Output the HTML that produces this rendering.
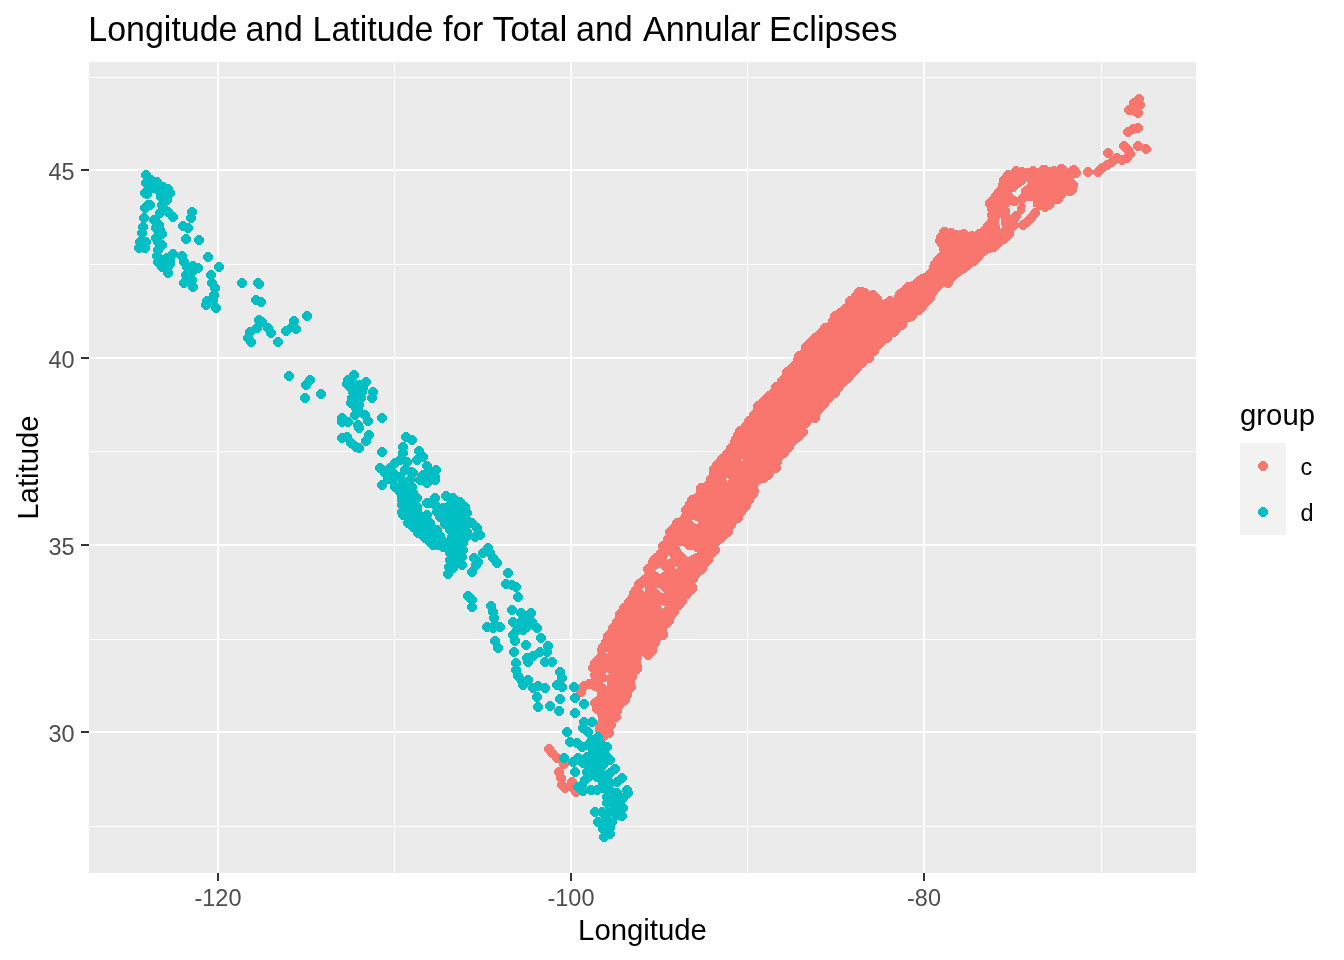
<!DOCTYPE html>
<html><head><meta charset="utf-8"><title>Longitude and Latitude for Total and Annular Eclipses</title>
<style>
html,body{margin:0;padding:0;background:#fff;}
svg{display:block;}
text{font-family:"Liberation Sans",Arial,sans-serif;}
.tk{font-size:23.47px;fill:#4D4D4D;}
.ax{font-size:29.33px;fill:#000;}
.ti{font-size:35.2px;fill:#000;}
.lg{font-size:23.47px;fill:#000;}
</style></head><body>
<svg width="1344" height="960" viewBox="0 0 1344 960">
<rect width="1344" height="960" fill="#fff"/>
<rect x="89" y="62" width="1107" height="811" fill="#EBEBEB"/>
<g fill="#fff" shape-rendering="crispEdges">
<rect x="89" y="77" width="1107" height="1"/>
<rect x="89" y="264" width="1107" height="1"/>
<rect x="89" y="451" width="1107" height="1"/>
<rect x="89" y="639" width="1107" height="1"/>
<rect x="89" y="826" width="1107" height="1"/>
<rect x="394" y="62" width="1" height="811"/>
<rect x="747" y="62" width="1" height="811"/>
<rect x="1101" y="62" width="1" height="811"/>
<rect x="89" y="169" width="1107" height="2"/>
<rect x="89" y="357" width="1107" height="2"/>
<rect x="89" y="544" width="1107" height="2"/>
<rect x="89" y="731" width="1107" height="2"/>
<rect x="217" y="62" width="2" height="811"/>
<rect x="570" y="62" width="2" height="811"/>
<rect x="923" y="62" width="2" height="811"/>
</g>
<path d="M607.7 737.0 L596.3 729.2 L598.5 716.9 L591.2 704.6 L597.4 695.4 L592.2 677.2 L589.1 668.1 L592.1 660.3 L597.3 654.0 L599.5 646.6 L605.7 634.2 L611.9 623.8 L616.1 614.4 L621.2 606.2 L627.5 598.9 L631.7 590.5 L637.9 582.3 L644.2 573.8 L646.3 566.4 L650.4 559.3 L656.6 552.1 L660.7 545.9 L663.8 537.5 L670.0 527.2 L674.0 522.2 L682.5 516.8 L684.7 506.2 L688.7 498.1 L697.1 491.8 L698.1 485.6 L707.4 481.5 L709.7 470.8 L714.8 462.7 L723.1 452.3 L730.4 441.8 L734.6 433.4 L740.8 425.2 L749.1 414.8 L756.4 404.3 L764.7 394.0 L774.1 385.6 L779.3 377.3 L786.6 369.0 L795.1 360.4 L795.5 356.6 L801.6 348.5 L808.9 340.2 L815.1 333.0 L826.6 323.6 L832.8 314.2 L841.1 307.0 L850.5 297.6 L857.7 289.3 L863.1 286.4 L868.1 292.6 L874.4 292.6 L881.8 299.9 L893.1 297.7 L897.4 290.3 L905.5 285.2 L911.8 281.1 L918.0 277.9 L928.6 269.4 L935.0 261.0 L940.1 252.8 L940.9 252.0 L937.7 241.5 L937.6 235.4 L943.7 229.3 L953.2 229.3 L959.8 231.0 L970.0 232.7 L980.6 230.8 L984.0 224.9 L988.4 222.1 L987.7 211.5 L986.0 203.5 L990.8 196.4 L999.2 187.1 L1000.9 180.4 L1007.3 172.4 L1016.8 167.7 L1026.7 169.3 L1038.4 167.7 L1050.0 166.8 L1061.5 166.8 L1068.4 169.3 L1074.0 166.8 L1077.4 170.3 L1075.8 176.1 L1072.3 179.1 L1077.3 185.1 L1072.7 194.2 L1066.2 195.8 L1059.4 200.9 L1052.8 205.8 L1044.8 209.8 L1038.7 209.1 L1034.0 205.1 L1029.5 200.7 L1024.2 201.9 L1024.9 209.0 L1020.8 216.2 L1015.7 226.3 L1014.1 232.8 L1009.3 237.6 L1002.7 244.2 L992.8 250.8 L984.4 255.9 L977.7 262.6 L969.4 269.2 L962.7 274.2 L956.0 279.2 L949.5 285.8 L942.8 287.5 L937.6 292.6 L934.2 296.0 L929.2 302.7 L922.6 309.3 L916.8 315.9 L908.5 322.2 L900.2 330.5 L891.8 336.7 L881.4 347.2 L872.9 355.7 L871.5 359.4 L864.3 365.5 L857.0 371.8 L850.7 380.2 L842.4 389.6 L836.2 396.8 L828.9 402.0 L822.5 411.5 L816.4 419.7 L806.9 426.1 L804.8 434.5 L794.5 443.7 L789.2 451.1 L780.8 461.6 L777.7 469.9 L768.6 479.0 L759.0 484.4 L756.8 493.0 L751.6 503.3 L745.5 513.6 L735.0 524.0 L729.8 534.4 L722.7 542.6 L717.4 545.8 L718.4 552.2 L713.4 558.1 L709.2 563.4 L702.9 572.7 L695.5 582.3 L694.5 589.6 L684.1 599.9 L683.0 605.2 L677.9 612.4 L672.8 622.7 L667.5 627.0 L665.4 635.4 L658.1 643.7 L655.0 654.0 L649.4 657.8 L640.6 655.9 L641.3 666.9 L636.1 675.1 L634.0 687.6 L627.9 699.9 L622.6 708.3 L619.5 716.6 L612.3 727.0Z" fill="#F8766D" shape-rendering="crispEdges"/>
<path fill="#F8766D" shape-rendering="crispEdges" d="M607.5 728h3l3.5 3.5v3l-3.5 3.5h-3l-3.5-3.5v-3zM602.5 724h3l3.5 3.5v3l-3.5 3.5h-3l-3.5-3.5v-3zM598.5 722h3l3.5 3.5v3l-3.5 3.5h-3l-3.5-3.5v-3zM598.5 725h3l3.5 3.5v3l-3.5 3.5h-3l-3.5-3.5v-3zM599.5 719h3l3.5 3.5v3l-3.5 3.5h-3l-3.5-3.5v-3zM600.5 709h3l3.5 3.5v3l-3.5 3.5h-3l-3.5-3.5v-3zM595.5 704h3l3.5 3.5v3l-3.5 3.5h-3l-3.5-3.5v-3zM595.5 701h3l3.5 3.5v3l-3.5 3.5h-3l-3.5-3.5v-3zM593.5 698h3l3.5 3.5v3l-3.5 3.5h-3l-3.5-3.5v-3zM597.5 695h3l3.5 3.5v3l-3.5 3.5h-3l-3.5-3.5v-3zM598.5 684h3l3.5 3.5v3l-3.5 3.5h-3l-3.5-3.5v-3zM597.5 681h3l3.5 3.5v3l-3.5 3.5h-3l-3.5-3.5v-3zM597.5 679h3l3.5 3.5v3l-3.5 3.5h-3l-3.5-3.5v-3zM594.5 675h3l3.5 3.5v3l-3.5 3.5h-3l-3.5-3.5v-3zM593.5 670h3l3.5 3.5v3l-3.5 3.5h-3l-3.5-3.5v-3zM591.5 663h3l3.5 3.5v3l-3.5 3.5h-3l-3.5-3.5v-3zM593.5 660h3l3.5 3.5v3l-3.5 3.5h-3l-3.5-3.5v-3zM593.5 658h3l3.5 3.5v3l-3.5 3.5h-3l-3.5-3.5v-3zM600.5 645h3l3.5 3.5v3l-3.5 3.5h-3l-3.5-3.5v-3zM601.5 642h3l3.5 3.5v3l-3.5 3.5h-3l-3.5-3.5v-3zM604.5 637h3l3.5 3.5v3l-3.5 3.5h-3l-3.5-3.5v-3zM606.5 631h3l3.5 3.5v3l-3.5 3.5h-3l-3.5-3.5v-3zM607.5 630h3l3.5 3.5v3l-3.5 3.5h-3l-3.5-3.5v-3zM611.5 623h3l3.5 3.5v3l-3.5 3.5h-3l-3.5-3.5v-3zM615.5 617h3l3.5 3.5v3l-3.5 3.5h-3l-3.5-3.5v-3zM618.5 611h3l3.5 3.5v3l-3.5 3.5h-3l-3.5-3.5v-3zM618.5 609h3l3.5 3.5v3l-3.5 3.5h-3l-3.5-3.5v-3zM620.5 607h3l3.5 3.5v3l-3.5 3.5h-3l-3.5-3.5v-3zM622.5 603h3l3.5 3.5v3l-3.5 3.5h-3l-3.5-3.5v-3zM627.5 597h3l3.5 3.5v3l-3.5 3.5h-3l-3.5-3.5v-3zM631.5 592h3l3.5 3.5v3l-3.5 3.5h-3l-3.5-3.5v-3zM632.5 588h3l3.5 3.5v3l-3.5 3.5h-3l-3.5-3.5v-3zM634.5 585h3l3.5 3.5v3l-3.5 3.5h-3l-3.5-3.5v-3zM637.5 579h3l3.5 3.5v3l-3.5 3.5h-3l-3.5-3.5v-3zM640.5 577h3l3.5 3.5v3l-3.5 3.5h-3l-3.5-3.5v-3zM642.5 575h3l3.5 3.5v3l-3.5 3.5h-3l-3.5-3.5v-3zM646.5 564h3l3.5 3.5v3l-3.5 3.5h-3l-3.5-3.5v-3zM651.5 557h3l3.5 3.5v3l-3.5 3.5h-3l-3.5-3.5v-3zM652.5 555h3l3.5 3.5v3l-3.5 3.5h-3l-3.5-3.5v-3zM654.5 553h3l3.5 3.5v3l-3.5 3.5h-3l-3.5-3.5v-3zM659.5 548h3l3.5 3.5v3l-3.5 3.5h-3l-3.5-3.5v-3zM661.5 541h3l3.5 3.5v3l-3.5 3.5h-3l-3.5-3.5v-3zM666.5 534h3l3.5 3.5v3l-3.5 3.5h-3l-3.5-3.5v-3zM668.5 527h3l3.5 3.5v3l-3.5 3.5h-3l-3.5-3.5v-3zM671.5 524h3l3.5 3.5v3l-3.5 3.5h-3l-3.5-3.5v-3zM675.5 518h3l3.5 3.5v3l-3.5 3.5h-3l-3.5-3.5v-3zM681.5 515h3l3.5 3.5v3l-3.5 3.5h-3l-3.5-3.5v-3zM684.5 511h3l3.5 3.5v3l-3.5 3.5h-3l-3.5-3.5v-3zM684.5 505h3l3.5 3.5v3l-3.5 3.5h-3l-3.5-3.5v-3zM688.5 499h3l3.5 3.5v3l-3.5 3.5h-3l-3.5-3.5v-3zM689.5 498h3l3.5 3.5v3l-3.5 3.5h-3l-3.5-3.5v-3zM690.5 495h3l3.5 3.5v3l-3.5 3.5h-3l-3.5-3.5v-3zM696.5 492h3l3.5 3.5v3l-3.5 3.5h-3l-3.5-3.5v-3zM699.5 487h3l3.5 3.5v3l-3.5 3.5h-3l-3.5-3.5v-3zM699.5 483h3l3.5 3.5v3l-3.5 3.5h-3l-3.5-3.5v-3zM706.5 480h3l3.5 3.5v3l-3.5 3.5h-3l-3.5-3.5v-3zM709.5 474h3l3.5 3.5v3l-3.5 3.5h-3l-3.5-3.5v-3zM712.5 468h3l3.5 3.5v3l-3.5 3.5h-3l-3.5-3.5v-3zM712.5 464h3l3.5 3.5v3l-3.5 3.5h-3l-3.5-3.5v-3zM715.5 460h3l3.5 3.5v3l-3.5 3.5h-3l-3.5-3.5v-3zM717.5 458h3l3.5 3.5v3l-3.5 3.5h-3l-3.5-3.5v-3zM720.5 454h3l3.5 3.5v3l-3.5 3.5h-3l-3.5-3.5v-3zM725.5 449h3l3.5 3.5v3l-3.5 3.5h-3l-3.5-3.5v-3zM729.5 443h3l3.5 3.5v3l-3.5 3.5h-3l-3.5-3.5v-3zM733.5 437h3l3.5 3.5v3l-3.5 3.5h-3l-3.5-3.5v-3zM734.5 434h3l3.5 3.5v3l-3.5 3.5h-3l-3.5-3.5v-3zM736.5 430h3l3.5 3.5v3l-3.5 3.5h-3l-3.5-3.5v-3zM738.5 426h3l3.5 3.5v3l-3.5 3.5h-3l-3.5-3.5v-3zM745.5 420h3l3.5 3.5v3l-3.5 3.5h-3l-3.5-3.5v-3zM747.5 416h3l3.5 3.5v3l-3.5 3.5h-3l-3.5-3.5v-3zM752.5 410h3l3.5 3.5v3l-3.5 3.5h-3l-3.5-3.5v-3zM756.5 401h3l3.5 3.5v3l-3.5 3.5h-3l-3.5-3.5v-3zM759.5 399h3l3.5 3.5v3l-3.5 3.5h-3l-3.5-3.5v-3zM762.5 396h3l3.5 3.5v3l-3.5 3.5h-3l-3.5-3.5v-3zM767.5 391h3l3.5 3.5v3l-3.5 3.5h-3l-3.5-3.5v-3zM774.5 385h3l3.5 3.5v3l-3.5 3.5h-3l-3.5-3.5v-3zM774.5 382h3l3.5 3.5v3l-3.5 3.5h-3l-3.5-3.5v-3zM780.5 376h3l3.5 3.5v3l-3.5 3.5h-3l-3.5-3.5v-3zM783.5 373h3l3.5 3.5v3l-3.5 3.5h-3l-3.5-3.5v-3zM785.5 367h3l3.5 3.5v3l-3.5 3.5h-3l-3.5-3.5v-3zM790.5 363h3l3.5 3.5v3l-3.5 3.5h-3l-3.5-3.5v-3zM792.5 361h3l3.5 3.5v3l-3.5 3.5h-3l-3.5-3.5v-3zM796.5 355h3l3.5 3.5v3l-3.5 3.5h-3l-3.5-3.5v-3zM797.5 351h3l3.5 3.5v3l-3.5 3.5h-3l-3.5-3.5v-3zM801.5 349h3l3.5 3.5v3l-3.5 3.5h-3l-3.5-3.5v-3zM804.5 342h3l3.5 3.5v3l-3.5 3.5h-3l-3.5-3.5v-3zM808.5 338h3l3.5 3.5v3l-3.5 3.5h-3l-3.5-3.5v-3zM812.5 334h3l3.5 3.5v3l-3.5 3.5h-3l-3.5-3.5v-3zM813.5 333h3l3.5 3.5v3l-3.5 3.5h-3l-3.5-3.5v-3zM817.5 330h3l3.5 3.5v3l-3.5 3.5h-3l-3.5-3.5v-3zM819.5 328h3l3.5 3.5v3l-3.5 3.5h-3l-3.5-3.5v-3zM823.5 323h3l3.5 3.5v3l-3.5 3.5h-3l-3.5-3.5v-3zM831.5 316h3l3.5 3.5v3l-3.5 3.5h-3l-3.5-3.5v-3zM833.5 311h3l3.5 3.5v3l-3.5 3.5h-3l-3.5-3.5v-3zM837.5 309h3l3.5 3.5v3l-3.5 3.5h-3l-3.5-3.5v-3zM838.5 308h3l3.5 3.5v3l-3.5 3.5h-3l-3.5-3.5v-3zM843.5 304h3l3.5 3.5v3l-3.5 3.5h-3l-3.5-3.5v-3zM848.5 296h3l3.5 3.5v3l-3.5 3.5h-3l-3.5-3.5v-3zM854.5 291h3l3.5 3.5v3l-3.5 3.5h-3l-3.5-3.5v-3zM857.5 287h3l3.5 3.5v3l-3.5 3.5h-3l-3.5-3.5v-3zM863.5 288h3l3.5 3.5v3l-3.5 3.5h-3l-3.5-3.5v-3zM871.5 291h3l3.5 3.5v3l-3.5 3.5h-3l-3.5-3.5v-3zM871.5 290h3l3.5 3.5v3l-3.5 3.5h-3l-3.5-3.5v-3zM875.5 294h3l3.5 3.5v3l-3.5 3.5h-3l-3.5-3.5v-3zM886.5 298h3l3.5 3.5v3l-3.5 3.5h-3l-3.5-3.5v-3zM888.5 296h3l3.5 3.5v3l-3.5 3.5h-3l-3.5-3.5v-3zM898.5 289h3l3.5 3.5v3l-3.5 3.5h-3l-3.5-3.5v-3zM905.5 283h3l3.5 3.5v3l-3.5 3.5h-3l-3.5-3.5v-3zM906.5 282h3l3.5 3.5v3l-3.5 3.5h-3l-3.5-3.5v-3zM917.5 276h3l3.5 3.5v3l-3.5 3.5h-3l-3.5-3.5v-3zM920.5 274h3l3.5 3.5v3l-3.5 3.5h-3l-3.5-3.5v-3zM925.5 272h3l3.5 3.5v3l-3.5 3.5h-3l-3.5-3.5v-3zM932.5 262h3l3.5 3.5v3l-3.5 3.5h-3l-3.5-3.5v-3zM933.5 259h3l3.5 3.5v3l-3.5 3.5h-3l-3.5-3.5v-3zM936.5 255h3l3.5 3.5v3l-3.5 3.5h-3l-3.5-3.5v-3zM941.5 251h3l3.5 3.5v3l-3.5 3.5h-3l-3.5-3.5v-3zM940.5 251h3l3.5 3.5v3l-3.5 3.5h-3l-3.5-3.5v-3zM942.5 244h3l3.5 3.5v3l-3.5 3.5h-3l-3.5-3.5v-3zM940.5 239h3l3.5 3.5v3l-3.5 3.5h-3l-3.5-3.5v-3zM938.5 236h3l3.5 3.5v3l-3.5 3.5h-3l-3.5-3.5v-3zM939.5 232h3l3.5 3.5v3l-3.5 3.5h-3l-3.5-3.5v-3zM942.5 227h3l3.5 3.5v3l-3.5 3.5h-3l-3.5-3.5v-3zM943.5 227h3l3.5 3.5v3l-3.5 3.5h-3l-3.5-3.5v-3zM949.5 228h3l3.5 3.5v3l-3.5 3.5h-3l-3.5-3.5v-3zM953.5 230h3l3.5 3.5v3l-3.5 3.5h-3l-3.5-3.5v-3zM959.5 230h3l3.5 3.5v3l-3.5 3.5h-3l-3.5-3.5v-3zM962.5 229h3l3.5 3.5v3l-3.5 3.5h-3l-3.5-3.5v-3zM970.5 231h3l3.5 3.5v3l-3.5 3.5h-3l-3.5-3.5v-3zM977.5 229h3l3.5 3.5v3l-3.5 3.5h-3l-3.5-3.5v-3zM983.5 225h3l3.5 3.5v3l-3.5 3.5h-3l-3.5-3.5v-3zM986.5 221h3l3.5 3.5v3l-3.5 3.5h-3l-3.5-3.5v-3zM990.5 216h3l3.5 3.5v3l-3.5 3.5h-3l-3.5-3.5v-3zM990.5 210h3l3.5 3.5v3l-3.5 3.5h-3l-3.5-3.5v-3zM988.5 199h3l3.5 3.5v3l-3.5 3.5h-3l-3.5-3.5v-3zM988.5 198h3l3.5 3.5v3l-3.5 3.5h-3l-3.5-3.5v-3zM992.5 194h3l3.5 3.5v3l-3.5 3.5h-3l-3.5-3.5v-3zM994.5 191h3l3.5 3.5v3l-3.5 3.5h-3l-3.5-3.5v-3zM997.5 187h3l3.5 3.5v3l-3.5 3.5h-3l-3.5-3.5v-3zM1001.5 180h3l3.5 3.5v3l-3.5 3.5h-3l-3.5-3.5v-3zM1002.5 175h3l3.5 3.5v3l-3.5 3.5h-3l-3.5-3.5v-3zM1006.5 170h3l3.5 3.5v3l-3.5 3.5h-3l-3.5-3.5v-3zM1012.5 169h3l3.5 3.5v3l-3.5 3.5h-3l-3.5-3.5v-3zM1014.5 166h3l3.5 3.5v3l-3.5 3.5h-3l-3.5-3.5v-3zM1018.5 168h3l3.5 3.5v3l-3.5 3.5h-3l-3.5-3.5v-3zM1020.5 167h3l3.5 3.5v3l-3.5 3.5h-3l-3.5-3.5v-3zM1026.5 168h3l3.5 3.5v3l-3.5 3.5h-3l-3.5-3.5v-3zM1031.5 166h3l3.5 3.5v3l-3.5 3.5h-3l-3.5-3.5v-3zM1041.5 165h3l3.5 3.5v3l-3.5 3.5h-3l-3.5-3.5v-3zM1043.5 165h3l3.5 3.5v3l-3.5 3.5h-3l-3.5-3.5v-3zM1052.5 166h3l3.5 3.5v3l-3.5 3.5h-3l-3.5-3.5v-3zM1059.5 164h3l3.5 3.5v3l-3.5 3.5h-3l-3.5-3.5v-3zM1060.5 164h3l3.5 3.5v3l-3.5 3.5h-3l-3.5-3.5v-3zM1070.5 166h3l3.5 3.5v3l-3.5 3.5h-3l-3.5-3.5v-3zM1074.5 168h3l3.5 3.5v3l-3.5 3.5h-3l-3.5-3.5v-3zM1072.5 165h3l3.5 3.5v3l-3.5 3.5h-3l-3.5-3.5v-3zM1070.5 169h3l3.5 3.5v3l-3.5 3.5h-3l-3.5-3.5v-3zM1069.5 178h3l3.5 3.5v3l-3.5 3.5h-3l-3.5-3.5v-3zM1070.5 181h3l3.5 3.5v3l-3.5 3.5h-3l-3.5-3.5v-3zM1068.5 186h3l3.5 3.5v3l-3.5 3.5h-3l-3.5-3.5v-3zM1070.5 185h3l3.5 3.5v3l-3.5 3.5h-3l-3.5-3.5v-3zM1058.5 191h3l3.5 3.5v3l-3.5 3.5h-3l-3.5-3.5v-3zM1056.5 194h3l3.5 3.5v3l-3.5 3.5h-3l-3.5-3.5v-3zM1047.5 200h3l3.5 3.5v3l-3.5 3.5h-3l-3.5-3.5v-3zM1045.5 200h3l3.5 3.5v3l-3.5 3.5h-3l-3.5-3.5v-3zM1043.5 202h3l3.5 3.5v3l-3.5 3.5h-3l-3.5-3.5v-3zM1038.5 200h3l3.5 3.5v3l-3.5 3.5h-3l-3.5-3.5v-3zM1032.5 197h3l3.5 3.5v3l-3.5 3.5h-3l-3.5-3.5v-3zM1023.5 192h3l3.5 3.5v3l-3.5 3.5h-3l-3.5-3.5v-3zM1020.5 199h3l3.5 3.5v3l-3.5 3.5h-3l-3.5-3.5v-3zM1018.5 207h3l3.5 3.5v3l-3.5 3.5h-3l-3.5-3.5v-3zM1015.5 210h3l3.5 3.5v3l-3.5 3.5h-3l-3.5-3.5v-3zM1011.5 218h3l3.5 3.5v3l-3.5 3.5h-3l-3.5-3.5v-3zM1011.5 221h3l3.5 3.5v3l-3.5 3.5h-3l-3.5-3.5v-3zM1007.5 229h3l3.5 3.5v3l-3.5 3.5h-3l-3.5-3.5v-3zM1005.5 231h3l3.5 3.5v3l-3.5 3.5h-3l-3.5-3.5v-3zM1002.5 234h3l3.5 3.5v3l-3.5 3.5h-3l-3.5-3.5v-3zM996.5 238h3l3.5 3.5v3l-3.5 3.5h-3l-3.5-3.5v-3zM992.5 242h3l3.5 3.5v3l-3.5 3.5h-3l-3.5-3.5v-3zM987.5 243h3l3.5 3.5v3l-3.5 3.5h-3l-3.5-3.5v-3zM982.5 246h3l3.5 3.5v3l-3.5 3.5h-3l-3.5-3.5v-3zM979.5 248h3l3.5 3.5v3l-3.5 3.5h-3l-3.5-3.5v-3zM976.5 252h3l3.5 3.5v3l-3.5 3.5h-3l-3.5-3.5v-3zM972.5 256h3l3.5 3.5v3l-3.5 3.5h-3l-3.5-3.5v-3zM966.5 260h3l3.5 3.5v3l-3.5 3.5h-3l-3.5-3.5v-3zM962.5 263h3l3.5 3.5v3l-3.5 3.5h-3l-3.5-3.5v-3zM956.5 267h3l3.5 3.5v3l-3.5 3.5h-3l-3.5-3.5v-3zM950.5 272h3l3.5 3.5v3l-3.5 3.5h-3l-3.5-3.5v-3zM946.5 278h3l3.5 3.5v3l-3.5 3.5h-3l-3.5-3.5v-3zM933.5 284h3l3.5 3.5v3l-3.5 3.5h-3l-3.5-3.5v-3zM930.5 288h3l3.5 3.5v3l-3.5 3.5h-3l-3.5-3.5v-3zM928.5 293h3l3.5 3.5v3l-3.5 3.5h-3l-3.5-3.5v-3zM924.5 297h3l3.5 3.5v3l-3.5 3.5h-3l-3.5-3.5v-3zM920.5 302h3l3.5 3.5v3l-3.5 3.5h-3l-3.5-3.5v-3zM917.5 305h3l3.5 3.5v3l-3.5 3.5h-3l-3.5-3.5v-3zM910.5 311h3l3.5 3.5v3l-3.5 3.5h-3l-3.5-3.5v-3zM907.5 312h3l3.5 3.5v3l-3.5 3.5h-3l-3.5-3.5v-3zM903.5 314h3l3.5 3.5v3l-3.5 3.5h-3l-3.5-3.5v-3zM900.5 320h3l3.5 3.5v3l-3.5 3.5h-3l-3.5-3.5v-3zM895.5 323h3l3.5 3.5v3l-3.5 3.5h-3l-3.5-3.5v-3zM892.5 327h3l3.5 3.5v3l-3.5 3.5h-3l-3.5-3.5v-3zM885.5 333h3l3.5 3.5v3l-3.5 3.5h-3l-3.5-3.5v-3zM883.5 333h3l3.5 3.5v3l-3.5 3.5h-3l-3.5-3.5v-3zM879.5 337h3l3.5 3.5v3l-3.5 3.5h-3l-3.5-3.5v-3zM876.5 340h3l3.5 3.5v3l-3.5 3.5h-3l-3.5-3.5v-3zM872.5 346h3l3.5 3.5v3l-3.5 3.5h-3l-3.5-3.5v-3zM866.5 353h3l3.5 3.5v3l-3.5 3.5h-3l-3.5-3.5v-3zM867.5 353h3l3.5 3.5v3l-3.5 3.5h-3l-3.5-3.5v-3zM862.5 355h3l3.5 3.5v3l-3.5 3.5h-3l-3.5-3.5v-3zM860.5 358h3l3.5 3.5v3l-3.5 3.5h-3l-3.5-3.5v-3zM855.5 363h3l3.5 3.5v3l-3.5 3.5h-3l-3.5-3.5v-3zM852.5 366h3l3.5 3.5v3l-3.5 3.5h-3l-3.5-3.5v-3zM849.5 369h3l3.5 3.5v3l-3.5 3.5h-3l-3.5-3.5v-3zM846.5 373h3l3.5 3.5v3l-3.5 3.5h-3l-3.5-3.5v-3zM841.5 377h3l3.5 3.5v3l-3.5 3.5h-3l-3.5-3.5v-3zM836.5 383h3l3.5 3.5v3l-3.5 3.5h-3l-3.5-3.5v-3zM833.5 388h3l3.5 3.5v3l-3.5 3.5h-3l-3.5-3.5v-3zM827.5 393h3l3.5 3.5v3l-3.5 3.5h-3l-3.5-3.5v-3zM822.5 399h3l3.5 3.5v3l-3.5 3.5h-3l-3.5-3.5v-3zM819.5 402h3l3.5 3.5v3l-3.5 3.5h-3l-3.5-3.5v-3zM814.5 408h3l3.5 3.5v3l-3.5 3.5h-3l-3.5-3.5v-3zM813.5 412h3l3.5 3.5v3l-3.5 3.5h-3l-3.5-3.5v-3zM813.5 413h3l3.5 3.5v3l-3.5 3.5h-3l-3.5-3.5v-3zM804.5 418h3l3.5 3.5v3l-3.5 3.5h-3l-3.5-3.5v-3zM801.5 427h3l3.5 3.5v3l-3.5 3.5h-3l-3.5-3.5v-3zM800.5 427h3l3.5 3.5v3l-3.5 3.5h-3l-3.5-3.5v-3zM796.5 432h3l3.5 3.5v3l-3.5 3.5h-3l-3.5-3.5v-3zM791.5 436h3l3.5 3.5v3l-3.5 3.5h-3l-3.5-3.5v-3zM787.5 442h3l3.5 3.5v3l-3.5 3.5h-3l-3.5-3.5v-3zM782.5 448h3l3.5 3.5v3l-3.5 3.5h-3l-3.5-3.5v-3zM779.5 450h3l3.5 3.5v3l-3.5 3.5h-3l-3.5-3.5v-3zM775.5 457h3l3.5 3.5v3l-3.5 3.5h-3l-3.5-3.5v-3zM774.5 463h3l3.5 3.5v3l-3.5 3.5h-3l-3.5-3.5v-3zM766.5 470h3l3.5 3.5v3l-3.5 3.5h-3l-3.5-3.5v-3zM762.5 473h3l3.5 3.5v3l-3.5 3.5h-3l-3.5-3.5v-3zM757.5 474h3l3.5 3.5v3l-3.5 3.5h-3l-3.5-3.5v-3zM752.5 486h3l3.5 3.5v3l-3.5 3.5h-3l-3.5-3.5v-3zM751.5 489h3l3.5 3.5v3l-3.5 3.5h-3l-3.5-3.5v-3zM747.5 495h3l3.5 3.5v3l-3.5 3.5h-3l-3.5-3.5v-3zM744.5 500h3l3.5 3.5v3l-3.5 3.5h-3l-3.5-3.5v-3zM743.5 502h3l3.5 3.5v3l-3.5 3.5h-3l-3.5-3.5v-3zM738.5 508h3l3.5 3.5v3l-3.5 3.5h-3l-3.5-3.5v-3zM736.5 513h3l3.5 3.5v3l-3.5 3.5h-3l-3.5-3.5v-3zM732.5 515h3l3.5 3.5v3l-3.5 3.5h-3l-3.5-3.5v-3zM729.5 520h3l3.5 3.5v3l-3.5 3.5h-3l-3.5-3.5v-3zM726.5 527h3l3.5 3.5v3l-3.5 3.5h-3l-3.5-3.5v-3zM722.5 529h3l3.5 3.5v3l-3.5 3.5h-3l-3.5-3.5v-3zM721.5 531h3l3.5 3.5v3l-3.5 3.5h-3l-3.5-3.5v-3zM715.5 536h3l3.5 3.5v3l-3.5 3.5h-3l-3.5-3.5v-3zM711.5 546h3l3.5 3.5v3l-3.5 3.5h-3l-3.5-3.5v-3zM713.5 545h3l3.5 3.5v3l-3.5 3.5h-3l-3.5-3.5v-3zM706.5 555h3l3.5 3.5v3l-3.5 3.5h-3l-3.5-3.5v-3zM702.5 559h3l3.5 3.5v3l-3.5 3.5h-3l-3.5-3.5v-3zM700.5 564h3l3.5 3.5v3l-3.5 3.5h-3l-3.5-3.5v-3zM696.5 567h3l3.5 3.5v3l-3.5 3.5h-3l-3.5-3.5v-3zM691.5 574h3l3.5 3.5v3l-3.5 3.5h-3l-3.5-3.5v-3zM690.5 584h3l3.5 3.5v3l-3.5 3.5h-3l-3.5-3.5v-3zM690.5 582h3l3.5 3.5v3l-3.5 3.5h-3l-3.5-3.5v-3zM685.5 589h3l3.5 3.5v3l-3.5 3.5h-3l-3.5-3.5v-3zM681.5 590h3l3.5 3.5v3l-3.5 3.5h-3l-3.5-3.5v-3zM680.5 596h3l3.5 3.5v3l-3.5 3.5h-3l-3.5-3.5v-3zM677.5 600h3l3.5 3.5v3l-3.5 3.5h-3l-3.5-3.5v-3zM672.5 607h3l3.5 3.5v3l-3.5 3.5h-3l-3.5-3.5v-3zM667.5 616h3l3.5 3.5v3l-3.5 3.5h-3l-3.5-3.5v-3zM665.5 618h3l3.5 3.5v3l-3.5 3.5h-3l-3.5-3.5v-3zM661.5 629h3l3.5 3.5v3l-3.5 3.5h-3l-3.5-3.5v-3zM661.5 630h3l3.5 3.5v3l-3.5 3.5h-3l-3.5-3.5v-3zM655.5 633h3l3.5 3.5v3l-3.5 3.5h-3l-3.5-3.5v-3zM653.5 638h3l3.5 3.5v3l-3.5 3.5h-3l-3.5-3.5v-3zM650.5 645h3l3.5 3.5v3l-3.5 3.5h-3l-3.5-3.5v-3zM650.5 646h3l3.5 3.5v3l-3.5 3.5h-3l-3.5-3.5v-3zM646.5 650h3l3.5 3.5v3l-3.5 3.5h-3l-3.5-3.5v-3zM635.5 652h3l3.5 3.5v3l-3.5 3.5h-3l-3.5-3.5v-3zM635.5 662h3l3.5 3.5v3l-3.5 3.5h-3l-3.5-3.5v-3zM635.5 664h3l3.5 3.5v3l-3.5 3.5h-3l-3.5-3.5v-3zM631.5 667h3l3.5 3.5v3l-3.5 3.5h-3l-3.5-3.5v-3zM630.5 672h3l3.5 3.5v3l-3.5 3.5h-3l-3.5-3.5v-3zM629.5 682h3l3.5 3.5v3l-3.5 3.5h-3l-3.5-3.5v-3zM628.5 682h3l3.5 3.5v3l-3.5 3.5h-3l-3.5-3.5v-3zM625.5 686h3l3.5 3.5v3l-3.5 3.5h-3l-3.5-3.5v-3zM625.5 690h3l3.5 3.5v3l-3.5 3.5h-3l-3.5-3.5v-3zM623.5 695h3l3.5 3.5v3l-3.5 3.5h-3l-3.5-3.5v-3zM619.5 698h3l3.5 3.5v3l-3.5 3.5h-3l-3.5-3.5v-3zM615.5 706h3l3.5 3.5v3l-3.5 3.5h-3l-3.5-3.5v-3zM614.5 712h3l3.5 3.5v3l-3.5 3.5h-3l-3.5-3.5v-3zM609.5 720h3l3.5 3.5v3l-3.5 3.5h-3l-3.5-3.5v-3zM606.5 724h3l3.5 3.5v3l-3.5 3.5h-3l-3.5-3.5v-3zM602.5 731h3l3.5 3.5v3l-3.5 3.5h-3l-3.5-3.5v-3z"/>
<g fill="#EBEBEB" shape-rendering="crispEdges"><path d="M1011.9 192.5 L1013.8 195.9 L1017.5 196.9 L1021.6 193.4 L1020.9 189.4 L1026.2 185.0 L1028.1 184.1 L1026.6 181.2 L1025.0 184.1 L1019.4 187.2 L1015.0 191.9Z"/><path d="M1008.1 207.5 L1009.4 205.0 L1016.2 206.2 L1020.0 202.8 L1016.9 208.1 L1016.6 210.9 L1014.1 211.2 L1010.0 215.0 L1010.0 210.0Z"/><path d="M1024.1 203.8 L1026.6 200.9 L1032.8 201.2 L1033.1 206.6 L1035.0 208.4 L1032.5 209.1 L1029.4 212.5 L1025.0 217.5 L1020.6 220.0 L1021.2 215.0 L1025.0 211.9 L1026.9 210.0 L1026.6 206.9Z"/><path d="M999.0 218.7 L1000.5 218.3 L1001.0 223.3 L1002.2 228.3 L1000.5 228.7 L999.3 224.2Z"/><path d="M679.8 545.8 L682.9 549.4 L686.0 555.6 L690.2 551.5 L697.5 552.9 L693.3 550.0 L688.1 550.4 L684.0 546.2Z"/><path d="M654.8 570.2 L660.0 567.1 L664.2 571.2 L660.0 574.4Z"/><path d="M657.5 586.9 L664.2 592.1 L663.1 593.8 L656.5 589.0Z"/><path d="M641.9 589.6 L645.0 586.2 L644.6 592.1Z"/><path d="M602.3 682.7 L607.5 681.2 L606.7 686.2Z"/><path d="M661.0 605.0 L665.6 606.2 L662.1 609.2Z"/><path d="M667.9 554.2 L670.8 557.7 L667.1 560.2Z"/><path d="M674.6 566.0 L678.3 567.5 L675.8 569.6Z"/><path d="M605.4 651.5 L608.3 652.5 L606.2 654.6Z"/><path d="M605.4 671.7 L608.8 673.3 L606.7 675.4Z"/><path d="M678.5 545.4 L681.7 551.7 L687.9 556.9 L697.3 552.7 L693.1 550.6 L686.9 553.8 L682.7 546.5Z"/><path d="M692.1 519.4 L698.3 521.5 L697.9 524.6 L693.1 522.5Z"/><path d="M725.4 477.1 L729.2 479.2 L727.5 481.9Z"/><path d="M740.6 457.9 L743.1 459.6 L741.7 461.7Z"/></g>
<path fill="#F8766D" shape-rendering="crispEdges" d="M547.5 744h3l3.5 3.5v3l-3.5 3.5h-3l-3.5-3.5v-3zM550.5 748h3l3.5 3.5v3l-3.5 3.5h-3l-3.5-3.5v-3zM555.5 753h3l3.5 3.5v3l-3.5 3.5h-3l-3.5-3.5v-3zM562.5 759h3l3.5 3.5v3l-3.5 3.5h-3l-3.5-3.5v-3zM557.5 767h3l3.5 3.5v3l-3.5 3.5h-3l-3.5-3.5v-3zM559.5 773h3l3.5 3.5v3l-3.5 3.5h-3l-3.5-3.5v-3zM560.5 780h3l3.5 3.5v3l-3.5 3.5h-3l-3.5-3.5v-3zM563.5 783h3l3.5 3.5v3l-3.5 3.5h-3l-3.5-3.5v-3zM570.5 777h3l3.5 3.5v3l-3.5 3.5h-3l-3.5-3.5v-3zM571.5 783h3l3.5 3.5v3l-3.5 3.5h-3l-3.5-3.5v-3zM574.5 787h3l3.5 3.5v3l-3.5 3.5h-3l-3.5-3.5v-3zM579.5 687h3l3.5 3.5v3l-3.5 3.5h-3l-3.5-3.5v-3zM582.5 681h3l3.5 3.5v3l-3.5 3.5h-3l-3.5-3.5v-3zM587.5 679h3l3.5 3.5v3l-3.5 3.5h-3l-3.5-3.5v-3zM593.5 681h3l3.5 3.5v3l-3.5 3.5h-3l-3.5-3.5v-3zM1137.5 94h3l3.5 3.5v3l-3.5 3.5h-3l-3.5-3.5v-3zM1132.5 98h3l3.5 3.5v3l-3.5 3.5h-3l-3.5-3.5v-3zM1138.5 100h3l3.5 3.5v3l-3.5 3.5h-3l-3.5-3.5v-3zM1127.5 105h3l3.5 3.5v3l-3.5 3.5h-3l-3.5-3.5v-3zM1133.5 106h3l3.5 3.5v3l-3.5 3.5h-3l-3.5-3.5v-3zM1136.5 108h3l3.5 3.5v3l-3.5 3.5h-3l-3.5-3.5v-3zM1136.5 123h3l3.5 3.5v3l-3.5 3.5h-3l-3.5-3.5v-3zM1131.5 124h3l3.5 3.5v3l-3.5 3.5h-3l-3.5-3.5v-3zM1126.5 127h3l3.5 3.5v3l-3.5 3.5h-3l-3.5-3.5v-3zM1122.5 141h3l3.5 3.5v3l-3.5 3.5h-3l-3.5-3.5v-3zM1136.5 141h3l3.5 3.5v3l-3.5 3.5h-3l-3.5-3.5v-3zM1144.5 144h3l3.5 3.5v3l-3.5 3.5h-3l-3.5-3.5v-3zM1126.5 145h3l3.5 3.5v3l-3.5 3.5h-3l-3.5-3.5v-3zM1106.5 148h3l3.5 3.5v3l-3.5 3.5h-3l-3.5-3.5v-3zM1115.5 153h3l3.5 3.5v3l-3.5 3.5h-3l-3.5-3.5v-3zM1120.5 155h3l3.5 3.5v3l-3.5 3.5h-3l-3.5-3.5v-3zM1125.5 153h3l3.5 3.5v3l-3.5 3.5h-3l-3.5-3.5v-3zM1110.5 157h3l3.5 3.5v3l-3.5 3.5h-3l-3.5-3.5v-3zM1105.5 160h3l3.5 3.5v3l-3.5 3.5h-3l-3.5-3.5v-3zM1100.5 163h3l3.5 3.5v3l-3.5 3.5h-3l-3.5-3.5v-3zM1096.5 167h3l3.5 3.5v3l-3.5 3.5h-3l-3.5-3.5v-3zM1128.5 149h3l3.5 3.5v3l-3.5 3.5h-3l-3.5-3.5v-3zM1086.5 167h3l3.5 3.5v3l-3.5 3.5h-3l-3.5-3.5v-3zM1071.5 166h3l3.5 3.5v3l-3.5 3.5h-3l-3.5-3.5v-3zM1071.5 180h3l3.5 3.5v3l-3.5 3.5h-3l-3.5-3.5v-3zM1068.5 186h3l3.5 3.5v3l-3.5 3.5h-3l-3.5-3.5v-3zM1033.5 208h3l3.5 3.5v3l-3.5 3.5h-3l-3.5-3.5v-3zM1029.5 213h3l3.5 3.5v3l-3.5 3.5h-3l-3.5-3.5v-3zM1025.5 217h3l3.5 3.5v3l-3.5 3.5h-3l-3.5-3.5v-3zM1021.5 220h3l3.5 3.5v3l-3.5 3.5h-3l-3.5-3.5v-3z"/>
<path fill="#00BFC4" shape-rendering="crispEdges" d="M144.5 170h3l3.5 3.5v3l-3.5 3.5h-3l-3.5-3.5v-3zM144.5 178h3l3.5 3.5v3l-3.5 3.5h-3l-3.5-3.5v-3zM143.5 188h3l3.5 3.5v3l-3.5 3.5h-3l-3.5-3.5v-3zM143.5 203h3l3.5 3.5v3l-3.5 3.5h-3l-3.5-3.5v-3zM142.5 213h3l3.5 3.5v3l-3.5 3.5h-3l-3.5-3.5v-3zM141.5 222h3l3.5 3.5v3l-3.5 3.5h-3l-3.5-3.5v-3zM140.5 228h3l3.5 3.5v3l-3.5 3.5h-3l-3.5-3.5v-3zM138.5 237h3l3.5 3.5v3l-3.5 3.5h-3l-3.5-3.5v-3zM137.5 243h3l3.5 3.5v3l-3.5 3.5h-3l-3.5-3.5v-3zM143.5 243h3l3.5 3.5v3l-3.5 3.5h-3l-3.5-3.5v-3zM144.5 237h3l3.5 3.5v3l-3.5 3.5h-3l-3.5-3.5v-3zM155.5 177h3l3.5 3.5v3l-3.5 3.5h-3l-3.5-3.5v-3zM161.5 182h3l3.5 3.5v3l-3.5 3.5h-3l-3.5-3.5v-3zM166.5 184h3l3.5 3.5v3l-3.5 3.5h-3l-3.5-3.5v-3zM168.5 188h3l3.5 3.5v3l-3.5 3.5h-3l-3.5-3.5v-3zM156.5 185h3l3.5 3.5v3l-3.5 3.5h-3l-3.5-3.5v-3zM159.5 192h3l3.5 3.5v3l-3.5 3.5h-3l-3.5-3.5v-3zM165.5 195h3l3.5 3.5v3l-3.5 3.5h-3l-3.5-3.5v-3zM160.5 200h3l3.5 3.5v3l-3.5 3.5h-3l-3.5-3.5v-3zM163.5 205h3l3.5 3.5v3l-3.5 3.5h-3l-3.5-3.5v-3zM158.5 208h3l3.5 3.5v3l-3.5 3.5h-3l-3.5-3.5v-3zM171.5 212h3l3.5 3.5v3l-3.5 3.5h-3l-3.5-3.5v-3zM166.5 207h3l3.5 3.5v3l-3.5 3.5h-3l-3.5-3.5v-3zM153.5 215h3l3.5 3.5v3l-3.5 3.5h-3l-3.5-3.5v-3zM157.5 220h3l3.5 3.5v3l-3.5 3.5h-3l-3.5-3.5v-3zM158.5 225h3l3.5 3.5v3l-3.5 3.5h-3l-3.5-3.5v-3zM160.5 229h3l3.5 3.5v3l-3.5 3.5h-3l-3.5-3.5v-3zM154.5 233h3l3.5 3.5v3l-3.5 3.5h-3l-3.5-3.5v-3zM156.5 237h3l3.5 3.5v3l-3.5 3.5h-3l-3.5-3.5v-3zM160.5 240h3l3.5 3.5v3l-3.5 3.5h-3l-3.5-3.5v-3zM156.5 245h3l3.5 3.5v3l-3.5 3.5h-3l-3.5-3.5v-3zM155.5 251h3l3.5 3.5v3l-3.5 3.5h-3l-3.5-3.5v-3zM156.5 257h3l3.5 3.5v3l-3.5 3.5h-3l-3.5-3.5v-3zM160.5 262h3l3.5 3.5v3l-3.5 3.5h-3l-3.5-3.5v-3zM166.5 268h3l3.5 3.5v3l-3.5 3.5h-3l-3.5-3.5v-3zM166.5 262h3l3.5 3.5v3l-3.5 3.5h-3l-3.5-3.5v-3zM168.5 255h3l3.5 3.5v3l-3.5 3.5h-3l-3.5-3.5v-3zM171.5 249h3l3.5 3.5v3l-3.5 3.5h-3l-3.5-3.5v-3zM165.5 253h3l3.5 3.5v3l-3.5 3.5h-3l-3.5-3.5v-3zM180.5 251h3l3.5 3.5v3l-3.5 3.5h-3l-3.5-3.5v-3zM182.5 257h3l3.5 3.5v3l-3.5 3.5h-3l-3.5-3.5v-3zM185.5 262h3l3.5 3.5v3l-3.5 3.5h-3l-3.5-3.5v-3zM191.5 261h3l3.5 3.5v3l-3.5 3.5h-3l-3.5-3.5v-3zM196.5 263h3l3.5 3.5v3l-3.5 3.5h-3l-3.5-3.5v-3zM190.5 267h3l3.5 3.5v3l-3.5 3.5h-3l-3.5-3.5v-3zM184.5 270h3l3.5 3.5v3l-3.5 3.5h-3l-3.5-3.5v-3zM182.5 278h3l3.5 3.5v3l-3.5 3.5h-3l-3.5-3.5v-3zM191.5 282h3l3.5 3.5v3l-3.5 3.5h-3l-3.5-3.5v-3zM190.5 275h3l3.5 3.5v3l-3.5 3.5h-3l-3.5-3.5v-3zM148.5 200h3l3.5 3.5v3l-3.5 3.5h-3l-3.5-3.5v-3zM190.5 207h3l3.5 3.5v3l-3.5 3.5h-3l-3.5-3.5v-3zM189.5 213h3l3.5 3.5v3l-3.5 3.5h-3l-3.5-3.5v-3zM181.5 221h3l3.5 3.5v3l-3.5 3.5h-3l-3.5-3.5v-3zM186.5 223h3l3.5 3.5v3l-3.5 3.5h-3l-3.5-3.5v-3zM184.5 234h3l3.5 3.5v3l-3.5 3.5h-3l-3.5-3.5v-3zM197.5 235h3l3.5 3.5v3l-3.5 3.5h-3l-3.5-3.5v-3zM206.5 252h3l3.5 3.5v3l-3.5 3.5h-3l-3.5-3.5v-3zM217.5 262h3l3.5 3.5v3l-3.5 3.5h-3l-3.5-3.5v-3zM209.5 270h3l3.5 3.5v3l-3.5 3.5h-3l-3.5-3.5v-3zM210.5 278h3l3.5 3.5v3l-3.5 3.5h-3l-3.5-3.5v-3zM213.5 283h3l3.5 3.5v3l-3.5 3.5h-3l-3.5-3.5v-3zM212.5 290h3l3.5 3.5v3l-3.5 3.5h-3l-3.5-3.5v-3zM211.5 295h3l3.5 3.5v3l-3.5 3.5h-3l-3.5-3.5v-3zM205.5 296h3l3.5 3.5v3l-3.5 3.5h-3l-3.5-3.5v-3zM204.5 300h3l3.5 3.5v3l-3.5 3.5h-3l-3.5-3.5v-3zM214.5 303h3l3.5 3.5v3l-3.5 3.5h-3l-3.5-3.5v-3zM240.5 278h3l3.5 3.5v3l-3.5 3.5h-3l-3.5-3.5v-3zM256.5 278h3l3.5 3.5v3l-3.5 3.5h-3l-3.5-3.5v-3zM254.5 295h3l3.5 3.5v3l-3.5 3.5h-3l-3.5-3.5v-3zM259.5 297h3l3.5 3.5v3l-3.5 3.5h-3l-3.5-3.5v-3zM305.5 311h3l3.5 3.5v3l-3.5 3.5h-3l-3.5-3.5v-3zM257.5 315h3l3.5 3.5v3l-3.5 3.5h-3l-3.5-3.5v-3zM292.5 316h3l3.5 3.5v3l-3.5 3.5h-3l-3.5-3.5v-3zM260.5 317h3l3.5 3.5v3l-3.5 3.5h-3l-3.5-3.5v-3zM255.5 323h3l3.5 3.5v3l-3.5 3.5h-3l-3.5-3.5v-3zM248.5 327h3l3.5 3.5v3l-3.5 3.5h-3l-3.5-3.5v-3zM246.5 333h3l3.5 3.5v3l-3.5 3.5h-3l-3.5-3.5v-3zM249.5 337h3l3.5 3.5v3l-3.5 3.5h-3l-3.5-3.5v-3zM266.5 323h3l3.5 3.5v3l-3.5 3.5h-3l-3.5-3.5v-3zM269.5 328h3l3.5 3.5v3l-3.5 3.5h-3l-3.5-3.5v-3zM276.5 337h3l3.5 3.5v3l-3.5 3.5h-3l-3.5-3.5v-3zM284.5 326h3l3.5 3.5v3l-3.5 3.5h-3l-3.5-3.5v-3zM294.5 324h3l3.5 3.5v3l-3.5 3.5h-3l-3.5-3.5v-3zM290.5 322h3l3.5 3.5v3l-3.5 3.5h-3l-3.5-3.5v-3zM287.5 371h3l3.5 3.5v3l-3.5 3.5h-3l-3.5-3.5v-3zM308.5 375h3l3.5 3.5v3l-3.5 3.5h-3l-3.5-3.5v-3zM304.5 380h3l3.5 3.5v3l-3.5 3.5h-3l-3.5-3.5v-3zM303.5 393h3l3.5 3.5v3l-3.5 3.5h-3l-3.5-3.5v-3zM319.5 389h3l3.5 3.5v3l-3.5 3.5h-3l-3.5-3.5v-3zM352.5 370h3l3.5 3.5v3l-3.5 3.5h-3l-3.5-3.5v-3zM346.5 375h3l3.5 3.5v3l-3.5 3.5h-3l-3.5-3.5v-3zM345.5 379h3l3.5 3.5v3l-3.5 3.5h-3l-3.5-3.5v-3zM351.5 378h3l3.5 3.5v3l-3.5 3.5h-3l-3.5-3.5v-3zM364.5 377h3l3.5 3.5v3l-3.5 3.5h-3l-3.5-3.5v-3zM361.5 383h3l3.5 3.5v3l-3.5 3.5h-3l-3.5-3.5v-3zM355.5 387h3l3.5 3.5v3l-3.5 3.5h-3l-3.5-3.5v-3zM350.5 393h3l3.5 3.5v3l-3.5 3.5h-3l-3.5-3.5v-3zM349.5 398h3l3.5 3.5v3l-3.5 3.5h-3l-3.5-3.5v-3zM355.5 400h3l3.5 3.5v3l-3.5 3.5h-3l-3.5-3.5v-3zM356.5 405h3l3.5 3.5v3l-3.5 3.5h-3l-3.5-3.5v-3zM353.5 410h3l3.5 3.5v3l-3.5 3.5h-3l-3.5-3.5v-3zM363.5 410h3l3.5 3.5v3l-3.5 3.5h-3l-3.5-3.5v-3zM340.5 413h3l3.5 3.5v3l-3.5 3.5h-3l-3.5-3.5v-3zM371.5 387h3l3.5 3.5v3l-3.5 3.5h-3l-3.5-3.5v-3zM370.5 393h3l3.5 3.5v3l-3.5 3.5h-3l-3.5-3.5v-3zM380.5 413h3l3.5 3.5v3l-3.5 3.5h-3l-3.5-3.5v-3zM353.5 383h3l3.5 3.5v3l-3.5 3.5h-3l-3.5-3.5v-3zM356.5 397h3l3.5 3.5v3l-3.5 3.5h-3l-3.5-3.5v-3zM354.5 403h3l3.5 3.5v3l-3.5 3.5h-3l-3.5-3.5v-3zM366.5 416h3l3.5 3.5v3l-3.5 3.5h-3l-3.5-3.5v-3zM356.5 420h3l3.5 3.5v3l-3.5 3.5h-3l-3.5-3.5v-3zM357.5 423h3l3.5 3.5v3l-3.5 3.5h-3l-3.5-3.5v-3zM340.5 417h3l3.5 3.5v3l-3.5 3.5h-3l-3.5-3.5v-3zM346.5 417h3l3.5 3.5v3l-3.5 3.5h-3l-3.5-3.5v-3zM367.5 430h3l3.5 3.5v3l-3.5 3.5h-3l-3.5-3.5v-3zM364.5 436h3l3.5 3.5v3l-3.5 3.5h-3l-3.5-3.5v-3zM340.5 433h3l3.5 3.5v3l-3.5 3.5h-3l-3.5-3.5v-3zM345.5 432h3l3.5 3.5v3l-3.5 3.5h-3l-3.5-3.5v-3zM349.5 438h3l3.5 3.5v3l-3.5 3.5h-3l-3.5-3.5v-3zM354.5 442h3l3.5 3.5v3l-3.5 3.5h-3l-3.5-3.5v-3zM357.5 443h3l3.5 3.5v3l-3.5 3.5h-3l-3.5-3.5v-3zM380.5 447h3l3.5 3.5v3l-3.5 3.5h-3l-3.5-3.5v-3zM404.5 432h3l3.5 3.5v3l-3.5 3.5h-3l-3.5-3.5v-3zM410.5 435h3l3.5 3.5v3l-3.5 3.5h-3l-3.5-3.5v-3zM401.5 442h3l3.5 3.5v3l-3.5 3.5h-3l-3.5-3.5v-3zM401.5 448h3l3.5 3.5v3l-3.5 3.5h-3l-3.5-3.5v-3zM417.5 446h3l3.5 3.5v3l-3.5 3.5h-3l-3.5-3.5v-3zM421.5 452h3l3.5 3.5v3l-3.5 3.5h-3l-3.5-3.5v-3zM415.5 455h3l3.5 3.5v3l-3.5 3.5h-3l-3.5-3.5v-3zM398.5 455h3l3.5 3.5v3l-3.5 3.5h-3l-3.5-3.5v-3zM405.5 457h3l3.5 3.5v3l-3.5 3.5h-3l-3.5-3.5v-3zM393.5 458h3l3.5 3.5v3l-3.5 3.5h-3l-3.5-3.5v-3zM388.5 463h3l3.5 3.5v3l-3.5 3.5h-3l-3.5-3.5v-3zM378.5 463h3l3.5 3.5v3l-3.5 3.5h-3l-3.5-3.5v-3zM425.5 461h3l3.5 3.5v3l-3.5 3.5h-3l-3.5-3.5v-3zM434.5 465h3l3.5 3.5v3l-3.5 3.5h-3l-3.5-3.5v-3zM433.5 472h3l3.5 3.5v3l-3.5 3.5h-3l-3.5-3.5v-3zM426.5 475h3l3.5 3.5v3l-3.5 3.5h-3l-3.5-3.5v-3zM421.5 470h3l3.5 3.5v3l-3.5 3.5h-3l-3.5-3.5v-3zM428.5 468h3l3.5 3.5v3l-3.5 3.5h-3l-3.5-3.5v-3zM425.5 478h3l3.5 3.5v3l-3.5 3.5h-3l-3.5-3.5v-3zM403.5 465h3l3.5 3.5v3l-3.5 3.5h-3l-3.5-3.5v-3zM409.5 467h3l3.5 3.5v3l-3.5 3.5h-3l-3.5-3.5v-3zM398.5 472h3l3.5 3.5v3l-3.5 3.5h-3l-3.5-3.5v-3zM390.5 475h3l3.5 3.5v3l-3.5 3.5h-3l-3.5-3.5v-3zM393.5 482h3l3.5 3.5v3l-3.5 3.5h-3l-3.5-3.5v-3zM401.5 478h3l3.5 3.5v3l-3.5 3.5h-3l-3.5-3.5v-3zM408.5 475h3l3.5 3.5v3l-3.5 3.5h-3l-3.5-3.5v-3zM410.5 482h3l3.5 3.5v3l-3.5 3.5h-3l-3.5-3.5v-3zM380.5 480h3l3.5 3.5v3l-3.5 3.5h-3l-3.5-3.5v-3zM405.5 487h3l3.5 3.5v3l-3.5 3.5h-3l-3.5-3.5v-3zM411.5 488h3l3.5 3.5v3l-3.5 3.5h-3l-3.5-3.5v-3zM400.5 492h3l3.5 3.5v3l-3.5 3.5h-3l-3.5-3.5v-3zM408.5 495h3l3.5 3.5v3l-3.5 3.5h-3l-3.5-3.5v-3zM415.5 493h3l3.5 3.5v3l-3.5 3.5h-3l-3.5-3.5v-3zM401.5 498h3l3.5 3.5v3l-3.5 3.5h-3l-3.5-3.5v-3zM400.5 507h3l3.5 3.5v3l-3.5 3.5h-3l-3.5-3.5v-3zM409.5 503h3l3.5 3.5v3l-3.5 3.5h-3l-3.5-3.5v-3zM415.5 502h3l3.5 3.5v3l-3.5 3.5h-3l-3.5-3.5v-3zM411.5 510h3l3.5 3.5v3l-3.5 3.5h-3l-3.5-3.5v-3zM418.5 512h3l3.5 3.5v3l-3.5 3.5h-3l-3.5-3.5v-3zM425.5 510h3l3.5 3.5v3l-3.5 3.5h-3l-3.5-3.5v-3zM433.5 493h3l3.5 3.5v3l-3.5 3.5h-3l-3.5-3.5v-3zM428.5 498h3l3.5 3.5v3l-3.5 3.5h-3l-3.5-3.5v-3zM435.5 502h3l3.5 3.5v3l-3.5 3.5h-3l-3.5-3.5v-3zM444.5 491h3l3.5 3.5v3l-3.5 3.5h-3l-3.5-3.5v-3zM451.5 493h3l3.5 3.5v3l-3.5 3.5h-3l-3.5-3.5v-3zM458.5 497h3l3.5 3.5v3l-3.5 3.5h-3l-3.5-3.5v-3zM463.5 502h3l3.5 3.5v3l-3.5 3.5h-3l-3.5-3.5v-3zM465.5 508h3l3.5 3.5v3l-3.5 3.5h-3l-3.5-3.5v-3zM448.5 500h3l3.5 3.5v3l-3.5 3.5h-3l-3.5-3.5v-3zM441.5 503h3l3.5 3.5v3l-3.5 3.5h-3l-3.5-3.5v-3zM455.5 505h3l3.5 3.5v3l-3.5 3.5h-3l-3.5-3.5v-3zM445.5 510h3l3.5 3.5v3l-3.5 3.5h-3l-3.5-3.5v-3zM460.5 513h3l3.5 3.5v3l-3.5 3.5h-3l-3.5-3.5v-3zM451.5 513h3l3.5 3.5v3l-3.5 3.5h-3l-3.5-3.5v-3zM386.5 474h3l3.5 3.5v3l-3.5 3.5h-3l-3.5-3.5v-3zM391.5 468h3l3.5 3.5v3l-3.5 3.5h-3l-3.5-3.5v-3zM383.5 468h3l3.5 3.5v3l-3.5 3.5h-3l-3.5-3.5v-3zM411.5 468h3l3.5 3.5v3l-3.5 3.5h-3l-3.5-3.5v-3zM433.5 475h3l3.5 3.5v3l-3.5 3.5h-3l-3.5-3.5v-3zM418.5 475h3l3.5 3.5v3l-3.5 3.5h-3l-3.5-3.5v-3zM398.5 487h3l3.5 3.5v3l-3.5 3.5h-3l-3.5-3.5v-3zM405.5 483h3l3.5 3.5v3l-3.5 3.5h-3l-3.5-3.5v-3zM400.5 495h3l3.5 3.5v3l-3.5 3.5h-3l-3.5-3.5v-3zM406.5 502h3l3.5 3.5v3l-3.5 3.5h-3l-3.5-3.5v-3zM411.5 507h3l3.5 3.5v3l-3.5 3.5h-3l-3.5-3.5v-3zM408.5 513h3l3.5 3.5v3l-3.5 3.5h-3l-3.5-3.5v-3zM410.5 520h3l3.5 3.5v3l-3.5 3.5h-3l-3.5-3.5v-3zM415.5 525h3l3.5 3.5v3l-3.5 3.5h-3l-3.5-3.5v-3zM421.5 518h3l3.5 3.5v3l-3.5 3.5h-3l-3.5-3.5v-3zM426.5 517h3l3.5 3.5v3l-3.5 3.5h-3l-3.5-3.5v-3zM420.5 530h3l3.5 3.5v3l-3.5 3.5h-3l-3.5-3.5v-3zM426.5 532h3l3.5 3.5v3l-3.5 3.5h-3l-3.5-3.5v-3zM431.5 528h3l3.5 3.5v3l-3.5 3.5h-3l-3.5-3.5v-3zM435.5 525h3l3.5 3.5v3l-3.5 3.5h-3l-3.5-3.5v-3zM428.5 537h3l3.5 3.5v3l-3.5 3.5h-3l-3.5-3.5v-3zM435.5 538h3l3.5 3.5v3l-3.5 3.5h-3l-3.5-3.5v-3zM440.5 535h3l3.5 3.5v3l-3.5 3.5h-3l-3.5-3.5v-3zM441.5 542h3l3.5 3.5v3l-3.5 3.5h-3l-3.5-3.5v-3zM425.5 498h3l3.5 3.5v3l-3.5 3.5h-3l-3.5-3.5v-3zM448.5 503h3l3.5 3.5v3l-3.5 3.5h-3l-3.5-3.5v-3zM465.5 515h3l3.5 3.5v3l-3.5 3.5h-3l-3.5-3.5v-3zM450.5 520h3l3.5 3.5v3l-3.5 3.5h-3l-3.5-3.5v-3zM456.5 522h3l3.5 3.5v3l-3.5 3.5h-3l-3.5-3.5v-3zM463.5 522h3l3.5 3.5v3l-3.5 3.5h-3l-3.5-3.5v-3zM470.5 518h3l3.5 3.5v3l-3.5 3.5h-3l-3.5-3.5v-3zM475.5 523h3l3.5 3.5v3l-3.5 3.5h-3l-3.5-3.5v-3zM478.5 530h3l3.5 3.5v3l-3.5 3.5h-3l-3.5-3.5v-3zM473.5 532h3l3.5 3.5v3l-3.5 3.5h-3l-3.5-3.5v-3zM451.5 528h3l3.5 3.5v3l-3.5 3.5h-3l-3.5-3.5v-3zM458.5 528h3l3.5 3.5v3l-3.5 3.5h-3l-3.5-3.5v-3zM461.5 532h3l3.5 3.5v3l-3.5 3.5h-3l-3.5-3.5v-3zM450.5 535h3l3.5 3.5v3l-3.5 3.5h-3l-3.5-3.5v-3zM456.5 537h3l3.5 3.5v3l-3.5 3.5h-3l-3.5-3.5v-3zM461.5 538h3l3.5 3.5v3l-3.5 3.5h-3l-3.5-3.5v-3zM450.5 542h3l3.5 3.5v3l-3.5 3.5h-3l-3.5-3.5v-3zM456.5 543h3l3.5 3.5v3l-3.5 3.5h-3l-3.5-3.5v-3zM461.5 545h3l3.5 3.5v3l-3.5 3.5h-3l-3.5-3.5v-3zM448.5 548h3l3.5 3.5v3l-3.5 3.5h-3l-3.5-3.5v-3zM455.5 550h3l3.5 3.5v3l-3.5 3.5h-3l-3.5-3.5v-3zM460.5 552h3l3.5 3.5v3l-3.5 3.5h-3l-3.5-3.5v-3zM448.5 555h3l3.5 3.5v3l-3.5 3.5h-3l-3.5-3.5v-3zM455.5 557h3l3.5 3.5v3l-3.5 3.5h-3l-3.5-3.5v-3zM460.5 560h3l3.5 3.5v3l-3.5 3.5h-3l-3.5-3.5v-3zM447.5 562h3l3.5 3.5v3l-3.5 3.5h-3l-3.5-3.5v-3zM446.5 569h3l3.5 3.5v3l-3.5 3.5h-3l-3.5-3.5v-3zM451.5 563h3l3.5 3.5v3l-3.5 3.5h-3l-3.5-3.5v-3zM486.5 543h3l3.5 3.5v3l-3.5 3.5h-3l-3.5-3.5v-3zM481.5 548h3l3.5 3.5v3l-3.5 3.5h-3l-3.5-3.5v-3zM472.5 553h3l3.5 3.5v3l-3.5 3.5h-3l-3.5-3.5v-3zM476.5 557h3l3.5 3.5v3l-3.5 3.5h-3l-3.5-3.5v-3zM474.5 560h3l3.5 3.5v3l-3.5 3.5h-3l-3.5-3.5v-3zM470.5 567h3l3.5 3.5v3l-3.5 3.5h-3l-3.5-3.5v-3zM488.5 548h3l3.5 3.5v3l-3.5 3.5h-3l-3.5-3.5v-3zM491.5 553h3l3.5 3.5v3l-3.5 3.5h-3l-3.5-3.5v-3zM495.5 558h3l3.5 3.5v3l-3.5 3.5h-3l-3.5-3.5v-3zM506.5 568h3l3.5 3.5v3l-3.5 3.5h-3l-3.5-3.5v-3zM504.5 579h3l3.5 3.5v3l-3.5 3.5h-3l-3.5-3.5v-3zM510.5 580h3l3.5 3.5v3l-3.5 3.5h-3l-3.5-3.5v-3zM514.5 582h3l3.5 3.5v3l-3.5 3.5h-3l-3.5-3.5v-3zM516.5 592h3l3.5 3.5v3l-3.5 3.5h-3l-3.5-3.5v-3zM466.5 591h3l3.5 3.5v3l-3.5 3.5h-3l-3.5-3.5v-3zM470.5 595h3l3.5 3.5v3l-3.5 3.5h-3l-3.5-3.5v-3zM470.5 602h3l3.5 3.5v3l-3.5 3.5h-3l-3.5-3.5v-3zM489.5 601h3l3.5 3.5v3l-3.5 3.5h-3l-3.5-3.5v-3zM491.5 607h3l3.5 3.5v3l-3.5 3.5h-3l-3.5-3.5v-3zM492.5 613h3l3.5 3.5v3l-3.5 3.5h-3l-3.5-3.5v-3zM493.5 620h3l3.5 3.5v3l-3.5 3.5h-3l-3.5-3.5v-3zM485.5 622h3l3.5 3.5v3l-3.5 3.5h-3l-3.5-3.5v-3zM498.5 622h3l3.5 3.5v3l-3.5 3.5h-3l-3.5-3.5v-3zM510.5 605h3l3.5 3.5v3l-3.5 3.5h-3l-3.5-3.5v-3zM519.5 608h3l3.5 3.5v3l-3.5 3.5h-3l-3.5-3.5v-3zM529.5 608h3l3.5 3.5v3l-3.5 3.5h-3l-3.5-3.5v-3zM523.5 613h3l3.5 3.5v3l-3.5 3.5h-3l-3.5-3.5v-3zM511.5 617h3l3.5 3.5v3l-3.5 3.5h-3l-3.5-3.5v-3zM518.5 618h3l3.5 3.5v3l-3.5 3.5h-3l-3.5-3.5v-3zM530.5 617h3l3.5 3.5v3l-3.5 3.5h-3l-3.5-3.5v-3zM525.5 622h3l3.5 3.5v3l-3.5 3.5h-3l-3.5-3.5v-3zM535.5 623h3l3.5 3.5v3l-3.5 3.5h-3l-3.5-3.5v-3zM491.5 623h3l3.5 3.5v3l-3.5 3.5h-3l-3.5-3.5v-3zM515.5 625h3l3.5 3.5v3l-3.5 3.5h-3l-3.5-3.5v-3zM521.5 625h3l3.5 3.5v3l-3.5 3.5h-3l-3.5-3.5v-3zM511.5 630h3l3.5 3.5v3l-3.5 3.5h-3l-3.5-3.5v-3zM513.5 636h3l3.5 3.5v3l-3.5 3.5h-3l-3.5-3.5v-3zM539.5 633h3l3.5 3.5v3l-3.5 3.5h-3l-3.5-3.5v-3zM493.5 636h3l3.5 3.5v3l-3.5 3.5h-3l-3.5-3.5v-3zM496.5 643h3l3.5 3.5v3l-3.5 3.5h-3l-3.5-3.5v-3zM524.5 640h3l3.5 3.5v3l-3.5 3.5h-3l-3.5-3.5v-3zM512.5 647h3l3.5 3.5v3l-3.5 3.5h-3l-3.5-3.5v-3zM546.5 641h3l3.5 3.5v3l-3.5 3.5h-3l-3.5-3.5v-3zM545.5 647h3l3.5 3.5v3l-3.5 3.5h-3l-3.5-3.5v-3zM538.5 647h3l3.5 3.5v3l-3.5 3.5h-3l-3.5-3.5v-3zM531.5 651h3l3.5 3.5v3l-3.5 3.5h-3l-3.5-3.5v-3zM525.5 653h3l3.5 3.5v3l-3.5 3.5h-3l-3.5-3.5v-3zM526.5 657h3l3.5 3.5v3l-3.5 3.5h-3l-3.5-3.5v-3zM543.5 657h3l3.5 3.5v3l-3.5 3.5h-3l-3.5-3.5v-3zM550.5 657h3l3.5 3.5v3l-3.5 3.5h-3l-3.5-3.5v-3zM514.5 658h3l3.5 3.5v3l-3.5 3.5h-3l-3.5-3.5v-3zM514.5 665h3l3.5 3.5v3l-3.5 3.5h-3l-3.5-3.5v-3zM516.5 671h3l3.5 3.5v3l-3.5 3.5h-3l-3.5-3.5v-3zM520.5 676h3l3.5 3.5v3l-3.5 3.5h-3l-3.5-3.5v-3zM521.5 680h3l3.5 3.5v3l-3.5 3.5h-3l-3.5-3.5v-3zM526.5 675h3l3.5 3.5v3l-3.5 3.5h-3l-3.5-3.5v-3zM558.5 667h3l3.5 3.5v3l-3.5 3.5h-3l-3.5-3.5v-3zM560.5 673h3l3.5 3.5v3l-3.5 3.5h-3l-3.5-3.5v-3zM555.5 680h3l3.5 3.5v3l-3.5 3.5h-3l-3.5-3.5v-3zM560.5 682h3l3.5 3.5v3l-3.5 3.5h-3l-3.5-3.5v-3zM531.5 683h3l3.5 3.5v3l-3.5 3.5h-3l-3.5-3.5v-3zM536.5 681h3l3.5 3.5v3l-3.5 3.5h-3l-3.5-3.5v-3zM543.5 683h3l3.5 3.5v3l-3.5 3.5h-3l-3.5-3.5v-3zM535.5 692h3l3.5 3.5v3l-3.5 3.5h-3l-3.5-3.5v-3zM536.5 702h3l3.5 3.5v3l-3.5 3.5h-3l-3.5-3.5v-3zM558.5 694h3l3.5 3.5v3l-3.5 3.5h-3l-3.5-3.5v-3zM548.5 701h3l3.5 3.5v3l-3.5 3.5h-3l-3.5-3.5v-3zM557.5 706h3l3.5 3.5v3l-3.5 3.5h-3l-3.5-3.5v-3zM572.5 682h3l3.5 3.5v3l-3.5 3.5h-3l-3.5-3.5v-3zM573.5 693h3l3.5 3.5v3l-3.5 3.5h-3l-3.5-3.5v-3zM582.5 699h3l3.5 3.5v3l-3.5 3.5h-3l-3.5-3.5v-3zM573.5 708h3l3.5 3.5v3l-3.5 3.5h-3l-3.5-3.5v-3zM582.5 717h3l3.5 3.5v3l-3.5 3.5h-3l-3.5-3.5v-3zM590.5 717h3l3.5 3.5v3l-3.5 3.5h-3l-3.5-3.5v-3zM581.5 723h3l3.5 3.5v3l-3.5 3.5h-3l-3.5-3.5v-3zM586.5 727h3l3.5 3.5v3l-3.5 3.5h-3l-3.5-3.5v-3zM565.5 727h3l3.5 3.5v3l-3.5 3.5h-3l-3.5-3.5v-3zM568.5 737h3l3.5 3.5v3l-3.5 3.5h-3l-3.5-3.5v-3zM575.5 738h3l3.5 3.5v3l-3.5 3.5h-3l-3.5-3.5v-3zM580.5 742h3l3.5 3.5v3l-3.5 3.5h-3l-3.5-3.5v-3zM590.5 735h3l3.5 3.5v3l-3.5 3.5h-3l-3.5-3.5v-3zM596.5 732h3l3.5 3.5v3l-3.5 3.5h-3l-3.5-3.5v-3zM598.5 738h3l3.5 3.5v3l-3.5 3.5h-3l-3.5-3.5v-3zM605.5 742h3l3.5 3.5v3l-3.5 3.5h-3l-3.5-3.5v-3zM591.5 742h3l3.5 3.5v3l-3.5 3.5h-3l-3.5-3.5v-3zM562.5 753h3l3.5 3.5v3l-3.5 3.5h-3l-3.5-3.5v-3zM586.5 740h3l3.5 3.5v3l-3.5 3.5h-3l-3.5-3.5v-3zM591.5 745h3l3.5 3.5v3l-3.5 3.5h-3l-3.5-3.5v-3zM598.5 747h3l3.5 3.5v3l-3.5 3.5h-3l-3.5-3.5v-3zM576.5 753h3l3.5 3.5v3l-3.5 3.5h-3l-3.5-3.5v-3zM585.5 752h3l3.5 3.5v3l-3.5 3.5h-3l-3.5-3.5v-3zM591.5 753h3l3.5 3.5v3l-3.5 3.5h-3l-3.5-3.5v-3zM598.5 753h3l3.5 3.5v3l-3.5 3.5h-3l-3.5-3.5v-3zM605.5 752h3l3.5 3.5v3l-3.5 3.5h-3l-3.5-3.5v-3zM608.5 755h3l3.5 3.5v3l-3.5 3.5h-3l-3.5-3.5v-3zM571.5 757h3l3.5 3.5v3l-3.5 3.5h-3l-3.5-3.5v-3zM581.5 758h3l3.5 3.5v3l-3.5 3.5h-3l-3.5-3.5v-3zM588.5 760h3l3.5 3.5v3l-3.5 3.5h-3l-3.5-3.5v-3zM595.5 760h3l3.5 3.5v3l-3.5 3.5h-3l-3.5-3.5v-3zM601.5 760h3l3.5 3.5v3l-3.5 3.5h-3l-3.5-3.5v-3zM573.5 767h3l3.5 3.5v3l-3.5 3.5h-3l-3.5-3.5v-3zM585.5 767h3l3.5 3.5v3l-3.5 3.5h-3l-3.5-3.5v-3zM591.5 767h3l3.5 3.5v3l-3.5 3.5h-3l-3.5-3.5v-3zM598.5 765h3l3.5 3.5v3l-3.5 3.5h-3l-3.5-3.5v-3zM613.5 764h3l3.5 3.5v3l-3.5 3.5h-3l-3.5-3.5v-3zM608.5 768h3l3.5 3.5v3l-3.5 3.5h-3l-3.5-3.5v-3zM605.5 773h3l3.5 3.5v3l-3.5 3.5h-3l-3.5-3.5v-3zM620.5 773h3l3.5 3.5v3l-3.5 3.5h-3l-3.5-3.5v-3zM615.5 777h3l3.5 3.5v3l-3.5 3.5h-3l-3.5-3.5v-3zM608.5 778h3l3.5 3.5v3l-3.5 3.5h-3l-3.5-3.5v-3zM583.5 775h3l3.5 3.5v3l-3.5 3.5h-3l-3.5-3.5v-3zM580.5 780h3l3.5 3.5v3l-3.5 3.5h-3l-3.5-3.5v-3zM576.5 782h3l3.5 3.5v3l-3.5 3.5h-3l-3.5-3.5v-3zM581.5 786h3l3.5 3.5v3l-3.5 3.5h-3l-3.5-3.5v-3zM589.5 785h3l3.5 3.5v3l-3.5 3.5h-3l-3.5-3.5v-3zM595.5 785h3l3.5 3.5v3l-3.5 3.5h-3l-3.5-3.5v-3zM601.5 783h3l3.5 3.5v3l-3.5 3.5h-3l-3.5-3.5v-3zM608.5 785h3l3.5 3.5v3l-3.5 3.5h-3l-3.5-3.5v-3zM615.5 788h3l3.5 3.5v3l-3.5 3.5h-3l-3.5-3.5v-3zM625.5 785h3l3.5 3.5v3l-3.5 3.5h-3l-3.5-3.5v-3zM626.5 788h3l3.5 3.5v3l-3.5 3.5h-3l-3.5-3.5v-3zM621.5 793h3l3.5 3.5v3l-3.5 3.5h-3l-3.5-3.5v-3zM605.5 792h3l3.5 3.5v3l-3.5 3.5h-3l-3.5-3.5v-3zM611.5 795h3l3.5 3.5v3l-3.5 3.5h-3l-3.5-3.5v-3zM618.5 798h3l3.5 3.5v3l-3.5 3.5h-3l-3.5-3.5v-3zM605.5 798h3l3.5 3.5v3l-3.5 3.5h-3l-3.5-3.5v-3zM613.5 803h3l3.5 3.5v3l-3.5 3.5h-3l-3.5-3.5v-3zM621.5 803h3l3.5 3.5v3l-3.5 3.5h-3l-3.5-3.5v-3zM593.5 807h3l3.5 3.5v3l-3.5 3.5h-3l-3.5-3.5v-3zM600.5 807h3l3.5 3.5v3l-3.5 3.5h-3l-3.5-3.5v-3zM606.5 808h3l3.5 3.5v3l-3.5 3.5h-3l-3.5-3.5v-3zM615.5 810h3l3.5 3.5v3l-3.5 3.5h-3l-3.5-3.5v-3zM620.5 811h3l3.5 3.5v3l-3.5 3.5h-3l-3.5-3.5v-3zM596.5 817h3l3.5 3.5v3l-3.5 3.5h-3l-3.5-3.5v-3zM603.5 815h3l3.5 3.5v3l-3.5 3.5h-3l-3.5-3.5v-3zM610.5 817h3l3.5 3.5v3l-3.5 3.5h-3l-3.5-3.5v-3zM601.5 824h3l3.5 3.5v3l-3.5 3.5h-3l-3.5-3.5v-3zM608.5 823h3l3.5 3.5v3l-3.5 3.5h-3l-3.5-3.5v-3zM602.5 832h3l3.5 3.5v3l-3.5 3.5h-3l-3.5-3.5v-3zM608.5 829h3l3.5 3.5v3l-3.5 3.5h-3l-3.5-3.5v-3zM405.5 492h3l3.5 3.5v3l-3.5 3.5h-3l-3.5-3.5v-3zM408.5 497h3l3.5 3.5v3l-3.5 3.5h-3l-3.5-3.5v-3zM403.5 500h3l3.5 3.5v3l-3.5 3.5h-3l-3.5-3.5v-3zM411.5 500h3l3.5 3.5v3l-3.5 3.5h-3l-3.5-3.5v-3zM406.5 507h3l3.5 3.5v3l-3.5 3.5h-3l-3.5-3.5v-3zM415.5 505h3l3.5 3.5v3l-3.5 3.5h-3l-3.5-3.5v-3zM411.5 513h3l3.5 3.5v3l-3.5 3.5h-3l-3.5-3.5v-3zM420.5 512h3l3.5 3.5v3l-3.5 3.5h-3l-3.5-3.5v-3zM416.5 518h3l3.5 3.5v3l-3.5 3.5h-3l-3.5-3.5v-3zM423.5 517h3l3.5 3.5v3l-3.5 3.5h-3l-3.5-3.5v-3zM420.5 523h3l3.5 3.5v3l-3.5 3.5h-3l-3.5-3.5v-3zM426.5 522h3l3.5 3.5v3l-3.5 3.5h-3l-3.5-3.5v-3zM425.5 527h3l3.5 3.5v3l-3.5 3.5h-3l-3.5-3.5v-3zM430.5 527h3l3.5 3.5v3l-3.5 3.5h-3l-3.5-3.5v-3zM428.5 532h3l3.5 3.5v3l-3.5 3.5h-3l-3.5-3.5v-3zM435.5 530h3l3.5 3.5v3l-3.5 3.5h-3l-3.5-3.5v-3zM433.5 535h3l3.5 3.5v3l-3.5 3.5h-3l-3.5-3.5v-3zM438.5 533h3l3.5 3.5v3l-3.5 3.5h-3l-3.5-3.5v-3zM436.5 540h3l3.5 3.5v3l-3.5 3.5h-3l-3.5-3.5v-3zM443.5 538h3l3.5 3.5v3l-3.5 3.5h-3l-3.5-3.5v-3zM431.5 540h3l3.5 3.5v3l-3.5 3.5h-3l-3.5-3.5v-3zM423.5 533h3l3.5 3.5v3l-3.5 3.5h-3l-3.5-3.5v-3zM416.5 528h3l3.5 3.5v3l-3.5 3.5h-3l-3.5-3.5v-3zM411.5 522h3l3.5 3.5v3l-3.5 3.5h-3l-3.5-3.5v-3zM405.5 512h3l3.5 3.5v3l-3.5 3.5h-3l-3.5-3.5v-3zM406.5 518h3l3.5 3.5v3l-3.5 3.5h-3l-3.5-3.5v-3zM400.5 500h3l3.5 3.5v3l-3.5 3.5h-3l-3.5-3.5v-3zM401.5 510h3l3.5 3.5v3l-3.5 3.5h-3l-3.5-3.5v-3zM424.5 513h3l3.5 3.5v3l-3.5 3.5h-3l-3.5-3.5v-3zM428.5 518h3l3.5 3.5v3l-3.5 3.5h-3l-3.5-3.5v-3zM433.5 525h3l3.5 3.5v3l-3.5 3.5h-3l-3.5-3.5v-3zM438.5 531h3l3.5 3.5v3l-3.5 3.5h-3l-3.5-3.5v-3zM439.5 538h3l3.5 3.5v3l-3.5 3.5h-3l-3.5-3.5v-3zM435.5 507h3l3.5 3.5v3l-3.5 3.5h-3l-3.5-3.5v-3zM438.5 512h3l3.5 3.5v3l-3.5 3.5h-3l-3.5-3.5v-3zM443.5 519h3l3.5 3.5v3l-3.5 3.5h-3l-3.5-3.5v-3zM448.5 525h3l3.5 3.5v3l-3.5 3.5h-3l-3.5-3.5v-3zM450.5 532h3l3.5 3.5v3l-3.5 3.5h-3l-3.5-3.5v-3zM150.5 178h3l3.5 3.5v3l-3.5 3.5h-3l-3.5-3.5v-3zM151.5 183h3l3.5 3.5v3l-3.5 3.5h-3l-3.5-3.5v-3zM162.5 188h3l3.5 3.5v3l-3.5 3.5h-3l-3.5-3.5v-3zM162.5 255h3l3.5 3.5v3l-3.5 3.5h-3l-3.5-3.5v-3zM168.5 259h3l3.5 3.5v3l-3.5 3.5h-3l-3.5-3.5v-3zM149.5 175h3l3.5 3.5v3l-3.5 3.5h-3l-3.5-3.5v-3zM147.5 180h3l3.5 3.5v3l-3.5 3.5h-3l-3.5-3.5v-3zM257.5 279h3l3.5 3.5v3l-3.5 3.5h-3l-3.5-3.5v-3zM358.5 380h3l3.5 3.5v3l-3.5 3.5h-3l-3.5-3.5v-3zM360.5 387h3l3.5 3.5v3l-3.5 3.5h-3l-3.5-3.5v-3zM359.5 393h3l3.5 3.5v3l-3.5 3.5h-3l-3.5-3.5v-3zM357.5 400h3l3.5 3.5v3l-3.5 3.5h-3l-3.5-3.5v-3zM351.5 387h3l3.5 3.5v3l-3.5 3.5h-3l-3.5-3.5v-3zM354.5 395h3l3.5 3.5v3l-3.5 3.5h-3l-3.5-3.5v-3zM349.5 383h3l3.5 3.5v3l-3.5 3.5h-3l-3.5-3.5v-3zM588.5 771h3l3.5 3.5v3l-3.5 3.5h-3l-3.5-3.5v-3zM595.5 772h3l3.5 3.5v3l-3.5 3.5h-3l-3.5-3.5v-3zM600.5 775h3l3.5 3.5v3l-3.5 3.5h-3l-3.5-3.5v-3zM601.5 778h3l3.5 3.5v3l-3.5 3.5h-3l-3.5-3.5v-3zM598.5 768h3l3.5 3.5v3l-3.5 3.5h-3l-3.5-3.5v-3zM451.5 507h3l3.5 3.5v3l-3.5 3.5h-3l-3.5-3.5v-3zM457.5 512h3l3.5 3.5v3l-3.5 3.5h-3l-3.5-3.5v-3zM454.5 517h3l3.5 3.5v3l-3.5 3.5h-3l-3.5-3.5v-3zM460.5 507h3l3.5 3.5v3l-3.5 3.5h-3l-3.5-3.5v-3zM449.5 514h3l3.5 3.5v3l-3.5 3.5h-3l-3.5-3.5v-3zM452.5 502h3l3.5 3.5v3l-3.5 3.5h-3l-3.5-3.5v-3zM459.5 516h3l3.5 3.5v3l-3.5 3.5h-3l-3.5-3.5v-3zM465.5 527h3l3.5 3.5v3l-3.5 3.5h-3l-3.5-3.5v-3zM463.5 533h3l3.5 3.5v3l-3.5 3.5h-3l-3.5-3.5v-3zM154.5 223h3l3.5 3.5v3l-3.5 3.5h-3l-3.5-3.5v-3zM152.5 215h3l3.5 3.5v3l-3.5 3.5h-3l-3.5-3.5v-3zM145.5 189h3l3.5 3.5v3l-3.5 3.5h-3l-3.5-3.5v-3zM146.5 200h3l3.5 3.5v3l-3.5 3.5h-3l-3.5-3.5v-3z"/>
<g fill="#333" shape-rendering="crispEdges">
<rect x="81" y="169" width="8" height="2"/>
<rect x="81" y="357" width="8" height="2"/>
<rect x="81" y="544" width="8" height="2"/>
<rect x="81" y="731" width="8" height="2"/>
<rect x="217" y="873" width="2" height="8"/>
<rect x="570" y="873" width="2" height="8"/>
<rect x="923" y="873" width="2" height="8"/>
</g>
<text x="74.5" y="180.10" text-anchor="end" class="tk">45</text>
<text x="74.5" y="368.10" text-anchor="end" class="tk">40</text>
<text x="74.5" y="555.10" text-anchor="end" class="tk">35</text>
<text x="74.5" y="742.10" text-anchor="end" class="tk">30</text>
<text x="218" y="906.3" text-anchor="middle" class="tk">-120</text>
<text x="571" y="906.3" text-anchor="middle" class="tk">-100</text>
<text x="924" y="906.3" text-anchor="middle" class="tk">-80</text>
<text x="642.5" y="939.5" text-anchor="middle" class="ax">Longitude</text>
<text transform="translate(37.5,467.5) rotate(-90)" text-anchor="middle" class="ax">Latitude</text>
<text y="41" class="ti"><tspan x="88.36" textLength="149.08" lengthAdjust="spacingAndGlyphs">Longitude</tspan> <tspan x="245.55" textLength="57.23" lengthAdjust="spacingAndGlyphs">and</tspan> <tspan x="312.50" textLength="120.98" lengthAdjust="spacingAndGlyphs">Latitude</tspan> <tspan x="442.92" textLength="40.45" lengthAdjust="spacingAndGlyphs">for</tspan> <tspan x="492.59" textLength="74.75" lengthAdjust="spacingAndGlyphs">Total</tspan> <tspan x="575.97" textLength="56.80" lengthAdjust="spacingAndGlyphs">and</tspan> <tspan x="642.90" textLength="117.79" lengthAdjust="spacingAndGlyphs">Annular</tspan> <tspan x="769.06" textLength="128.35" lengthAdjust="spacingAndGlyphs">Eclipses</tspan></text>
<text x="1240" y="425" class="ax">group</text>
<rect x="1240" y="443" width="46" height="92" fill="#F2F2F2"/>
<path fill="#F8766D" shape-rendering="crispEdges" d="M1261.5 461h3l3.5 3.5v3l-3.5 3.5h-3l-3.5-3.5v-3z"/><path fill="#00BFC4" shape-rendering="crispEdges" d="M1261.5 507h3l3.5 3.5v3l-3.5 3.5h-3l-3.5-3.5v-3z"/>
<text x="1300.5" y="475.3" class="lg">c</text><text x="1300.5" y="521.3" class="lg">d</text>
</svg>
</body></html>
